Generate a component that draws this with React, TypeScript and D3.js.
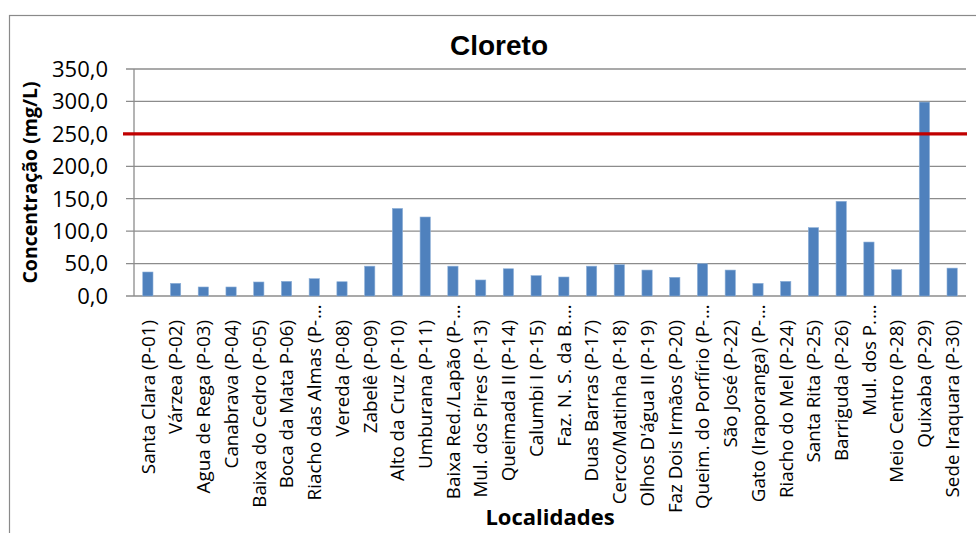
import React from "react";
import * as d3 from "d3";

const categories: string[] = [
  "Santa Clara (P-01)",
  "Várzea (P-02)",
  "Agua de Rega (P-03)",
  "Canabrava (P-04)",
  "Baixa do Cedro (P-05)",
  "Boca da Mata P-06)",
  "Riacho das Almas (P-…",
  "Vereda (P-08)",
  "Zabelê (P-09)",
  "Alto da Cruz (P-10)",
  "Umburana (P-11)",
  "Baixa Red./Lapão (P-…",
  "Mul. dos Pires (P-13)",
  "Queimada II (P-14)",
  "Calumbi I (P-15)",
  "Faz. N. S. da B.…",
  "Duas Barras (P-17)",
  "Cerco/Matinha (P-18)",
  "Olhos D'água II (P-19)",
  "Faz Dois Irmãos (P-20)",
  "Queim. do Porfírio (P-…",
  "São José (P-22)",
  "Gato (Iraporanga) (P-…",
  "Riacho do Mel (P-24)",
  "Santa Rita (P-25)",
  "Barriguda (P-26)",
  "Mul. dos P.…",
  "Meio Centro (P-28)",
  "Quixaba (P-29)",
  "Sede Iraquara (P-30)",
];

const cloreto: number[] = [
  37, 19.5, 13.9, 13.9, 21.6, 22.6, 26.7, 22, 46, 135, 121.8, 46, 24.7, 42,
  31.4, 29.3, 46, 48.3, 40, 28.8, 49.8, 40, 19.5, 22.6, 105.4, 146, 83.2,
  40.6, 299, 43,
];

const yTicks: number[] = [0, 50, 100, 150, 200, 250, 300, 350];
const limiteCloreto = 250;

const W = 976;
const H = 533;
const plot = { left: 134, right: 966, top: 69, bottom: 296 };
const FONT = "'Open Sans', 'DejaVu Sans', sans-serif";

const ptBR = d3.formatLocale({
  decimal: ",",
  thousands: ".",
  grouping: [3],
  currency: ["R$", ""],
});
const fmt = ptBR.format(".1f");

export default function App() {
  const x = d3
    .scaleBand<string>()
    .domain(categories)
    .range([plot.left, plot.right])
    .paddingInner(0.63)
    .paddingOuter(0.315);
  const band = d3
    .scaleBand<string>()
    .domain(categories)
    .range([plot.left, plot.right]);
  const y = d3.scaleLinear().domain([0, 350]).range([plot.bottom, plot.top]);

  const labelTop = plot.bottom + 24;

  return (
    <svg
      width={W}
      height={H}
      style={{ position: "absolute", left: 0, top: 0, background: "#fff" }}
      fontFamily={FONT}
    >
      <rect x={0} y={0} width={W} height={H} fill="#fff" />
      {/* chart frame */}
      <rect
        x={9.5}
        y={15.5}
        width={1000}
        height={600}
        fill="none"
        stroke="#8a8a8a"
        strokeWidth={1.2}
      />

      <text
        x={499}
        y={55}
        textAnchor="middle"
        fontFamily="'Liberation Sans', Arial, sans-serif"
        fontWeight="bold"
        fontSize={28}
        fill="#000"
      >
        Cloreto
      </text>

      {/* gridlines with outside tick marks */}
      {yTicks.map((t) => (
        <line
          key={`g${t}`}
          x1={plot.left - 8}
          x2={plot.right}
          y1={y(t)}
          y2={y(t)}
          stroke="#8c8c8c"
          strokeWidth={1.3}
        />
      ))}
      <line
        x1={plot.left}
        x2={plot.left}
        y1={plot.top}
        y2={plot.bottom}
        stroke="#8c8c8c"
        strokeWidth={1.3}
      />

      {yTicks.map((t) => (
        <text
          key={`t${t}`}
          x={108}
          y={y(t)}
          dy="0.36em"
          textAnchor="end"
          fontSize={22}
          fill="#000"
        >
          {fmt(t)}
        </text>
      ))}

      {/* bars */}
      {categories.map((c, i) => (
        <rect
          key={`b${i}`}
          x={x(c)}
          y={y(cloreto[i])}
          width={x.bandwidth()}
          height={y(0) - y(cloreto[i])}
          fill="#4f81bd"
          stroke="#8eb0d8"
          strokeWidth={0.6}
        />
      ))}

      {/* reference limit */}
      <line
        x1={plot.left - 11}
        x2={plot.right + 1}
        y1={y(limiteCloreto)}
        y2={y(limiteCloreto)}
        stroke="#c00000"
        strokeWidth={3.2}
      />

      {/* category labels */}
      {categories.map((c, i) => {
        const cx = (band(c) ?? 0) + band.bandwidth() / 2;
        const clipped = c.endsWith("…");
        const body = clipped ? c.slice(0, -1) : c;
        return (
          <g
            key={`l${i}`}
            transform={`translate(${cx},${labelTop}) rotate(-90)`}
          >
            <text x={0} y={0} dy="0.36em" textAnchor="end" fontSize={18.8} fill="#000">
              {body}
            </text>
            {clipped && (
              <text x={1} y={0} dy="0.36em" textAnchor="start" fontSize={18.8} fill="#000">
                …
              </text>
            )}
          </g>
        );
      })}

      <text
        transform={`translate(37,${(plot.top + plot.bottom) / 2}) rotate(-90)`}
        textAnchor="middle"
        fontWeight="bold"
        fontSize={19.5}
        fill="#000"
      >
        Concentração (mg/L)
      </text>

      <text
        x={(plot.left + plot.right) / 2}
        y={525}
        textAnchor="middle"
        fontWeight="bold"
        fontSize={22}
        fill="#000"
      >
        Localidades
      </text>
    </svg>
  );
}
